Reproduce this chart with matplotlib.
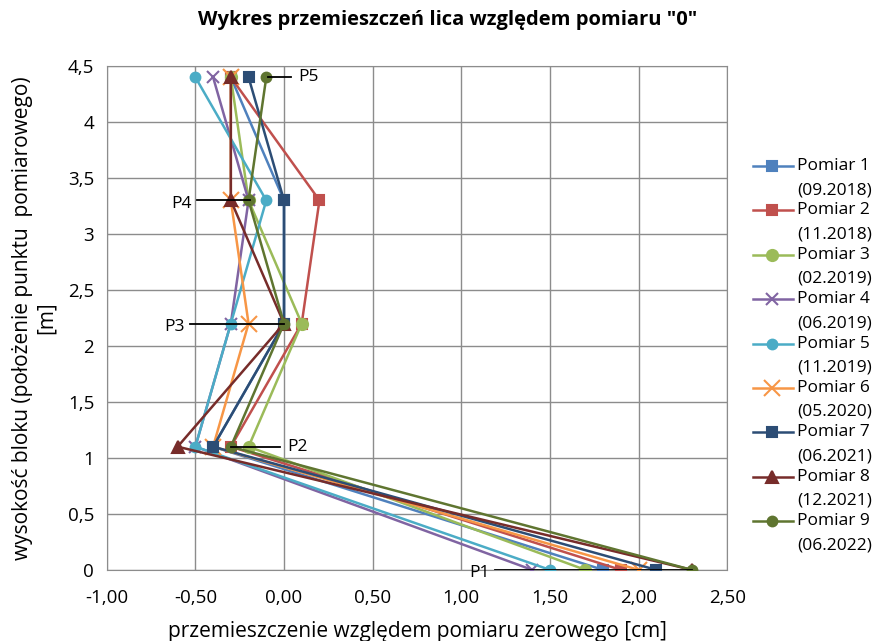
import matplotlib
matplotlib.use('Agg')
import matplotlib.pyplot as plt
from matplotlib.lines import Line2D
from matplotlib.ticker import FuncFormatter

plt.rcParams['font.family'] = ['Open Sans', 'DejaVu Sans']

# wysokosc punktow pomiarowych [m]
wysokosc = [0, 1.1, 2.2, 3.3, 4.4]

nazwy = ['Pomiar 1', 'Pomiar 2', 'Pomiar 3', 'Pomiar 4', 'Pomiar 5',
         'Pomiar 6', 'Pomiar 7', 'Pomiar 8', 'Pomiar 9']
daty = ['(09.2018)', '(11.2018)', '(02.2019)', '(06.2019)', '(11.2019)',
        '(05.2020)', '(06.2021)', '(12.2021)', '(06.2022)']

# przemieszczenia [cm] w kolejnosci P1..P5
pomiar1 = [1.8, -0.4, 0.0, 0.0, -0.3]
pomiar2 = [1.9, -0.3, 0.1, 0.2, -0.3]
pomiar3 = [1.7, -0.2, 0.1, -0.2, -0.3]
pomiar4 = [1.4, -0.5, -0.3, -0.2, -0.4]
pomiar5 = [1.5, -0.5, -0.3, -0.1, -0.5]
pomiar6 = [2.0, -0.4, -0.2, -0.3, -0.3]
pomiar7 = [2.1, -0.4, 0.0, 0.0, -0.2]
pomiar8 = [2.3, -0.6, 0.0, -0.3, -0.3]
pomiar9 = [2.3, -0.3, 0.0, -0.2, -0.1]
pomiary = [pomiar1, pomiar2, pomiar3, pomiar4, pomiar5,
           pomiar6, pomiar7, pomiar8, pomiar9]

kolory = ['#4F81BD', '#C0504D', '#9BBB59', '#8064A2', '#4BACC6',
          '#F79646', '#2C4D75', '#772C2A', '#5F7530']
markery = ['s', 's', 'o', 'x', 'o', 'x', 's', '^', 'o']
rozmiary = [7, 7, 8, 9, 7, 12, 7, 8, 7]

# opisy punktow: etykieta, poczatek i koniec kreski
punkty = ['P1', 'P2', 'P3', 'P4', 'P5']
kreska_od = [1.19, -0.30, -0.53, -0.49, -0.09]
kreska_do = [2.30, -0.02, 0.00, -0.19, 0.04]

fig = plt.figure(figsize=(8.75, 6.41), dpi=100)
ax = fig.add_axes([0.122, 0.111, 0.709, 0.786])

for i in range(9):
    ax.plot(pomiary[i], wysokosc, color=kolory[i], marker=markery[i],
            markersize=rozmiary[i], lw=1.8, mew=1.5, zorder=3)

for i in range(5):
    ax.plot([kreska_od[i], kreska_do[i]], [wysokosc[i], wysokosc[i]],
            color='black', lw=1.3, zorder=4)
    if i in (1, 4):
        ax.text(kreska_do[i] + 0.04, wysokosc[i], punkty[i], ha='left',
                va='center', fontsize=12.5)
    else:
        ax.text(kreska_od[i] - 0.03, wysokosc[i] - 0.03, punkty[i],
                ha='right', va='center', fontsize=12.5)

ax.set_xlim(-1, 2.5)
ax.set_ylim(0, 4.5)
ax.set_xticks([-1, -0.5, 0, 0.5, 1, 1.5, 2, 2.5])
ax.set_yticks([0, 0.5, 1, 1.5, 2, 2.5, 3, 3.5, 4, 4.5])
ax.xaxis.set_major_formatter(FuncFormatter(lambda v, p: ('%.2f' % v).replace('.', ',')))
ax.yaxis.set_major_formatter(FuncFormatter(lambda v, p: ('%g' % v).replace('.', ',')))
ax.tick_params(length=0, labelsize=13.5)
ax.tick_params(axis='x', pad=14)
ax.tick_params(axis='y', pad=9)
ax.grid(True, color='#8c8c8c', lw=1)
ax.set_axisbelow(True)
for s in ax.spines.values():
    s.set_color('#8c8c8c')

ax.set_xlabel('przemieszczenie względem pomiaru zerowego [cm]', fontsize=15, labelpad=10)
ax.set_ylabel('wysokość bloku (położenie punktu  pomiarowego)\n[m]', fontsize=15,
              labelpad=8)
fig.text(0.512, 0.969, 'Wykres przemieszczeń lica względem pomiaru "0"',
         ha='center', va='center', fontsize=14.5, fontweight='bold')

# legenda
for i in range(9):
    y = 1 - (166 + 44.4 * i) / 641
    fig.add_artist(Line2D([753 / 875, 793 / 875], [y, y], color=kolory[i], lw=1.8))
    fig.add_artist(Line2D([772 / 875], [y], color=kolory[i], marker=markery[i],
                          markersize=rozmiary[i], mew=1.5))
    fig.text(797 / 875, y, nazwy[i], ha='left', va='center', fontsize=12.5)
    fig.text(797 / 875, y - 24 / 641, daty[i], ha='left', va='center', fontsize=12.5)

fig.savefig('out.png', dpi=100)
